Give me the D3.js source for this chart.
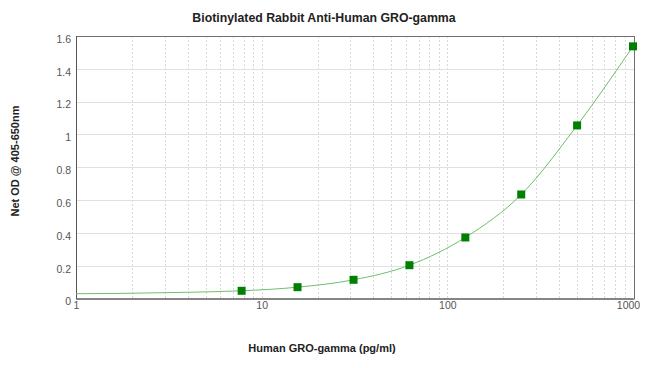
<!DOCTYPE html>
<html><head><meta charset="utf-8">
<script src="https://cdn.jsdelivr.net/npm/d3@7"></script>
<style>body{margin:0;background:#fff}svg{display:block}</style>
</head><body>
<svg id="c" width="650" height="368"></svg>
<script>
const concentrations = [7.8, 15.6, 31.25, 62.5, 125, 250, 500, 1000];
const odValues = [0.047, 0.069, 0.114, 0.203, 0.372, 0.634, 1.055, 1.537];
const curveX = [1, 2, 4, 7.8, 15.6, 31.25, 62.5, 125, 250, 500, 1000];
const curveY = [0.029, 0.032, 0.038, 0.047, 0.069, 0.114, 0.203, 0.372, 0.634, 1.055, 1.537];
const xTicks = [1, 10, 100, 1000];
const yTicks = [0, 0.2, 0.4, 0.6, 0.8, 1, 1.2, 1.4, 1.6];
const title = "Biotinylated Rabbit Anti-Human GRO-gamma";
const xLabel = "Human GRO-gamma (pg/ml)";
const yLabel = "Net OD @ 405-650nm";

const svg = d3.select("#c");
const L = 76, R = 634, T = 36, B = 298.5;
const x = d3.scaleLog().domain([1, 1000]).range([L, 633]);
const y = d3.scaleLinear().domain([0, 1.6]).range([B, T]);

// minor vertical grid
const minor = [];
for (let d = 1; d <= 1000; d *= 10) for (let k = 1; k <= 9; k++) { const v = d * k; if (v > 1 && v < 1000) minor.push(v); }
svg.append("g").selectAll("line").data(minor).join("line")
  .attr("x1", d => Math.round(x(d)) + 0.5).attr("x2", d => Math.round(x(d)) + 0.5).attr("y1", T).attr("y2", B)
  .attr("stroke", "#d8d8d8").attr("stroke-width", 1).attr("stroke-dasharray", "2,2");
// horizontal grid
svg.append("g").selectAll("line").data(yTicks.slice(1)).join("line")
  .attr("x1", L).attr("x2", R).attr("y1", d => Math.round(y(d)) + 0.5).attr("y2", d => Math.round(y(d)) + 0.5)
  .attr("stroke", "#e0e0e0").attr("stroke-width", 1);

// frame
svg.append("rect").attr("x", L + 0.5).attr("y", T + 0.5).attr("width", R - L).attr("height", B - T)
  .attr("fill", "none").attr("stroke", "#707070").attr("stroke-width", 1);

// axes
const yAxis = d3.axisLeft(y).tickValues(yTicks).tickSize(0).tickPadding(5).tickFormat(d3.format("~g"));
const gy = svg.append("g").attr("transform", `translate(${L},0)`).call(yAxis);
gy.select(".domain").attr("stroke", "#555");
gy.selectAll("text").attr("font-family", "Liberation Sans, Arial, sans-serif").attr("font-size", 10.5).attr("fill", "#555").attr("dy", "0.6em");

const xAxis = d3.axisBottom(x).tickValues(xTicks).tickSize(0).tickPadding(3).tickFormat(d3.format("d"));
const gx = svg.append("g").attr("transform", `translate(0,${B})`).call(xAxis);
gx.select(".domain").attr("stroke", "#555");
gx.selectAll("text").attr("font-family", "Liberation Sans, Arial, sans-serif").attr("font-size", 10.5).attr("fill", "#555");
gx.selectAll(".tick").filter(d => d === 1000).select("text").attr("dx", "-5");

// curve
const pts = curveX.map((v, i) => [v, curveY[i]]);
svg.append("path").datum(pts)
  .attr("d", d3.line().x(d => x(d[0])).y(d => y(d[1])).curve(d3.curveMonotoneX))
  .attr("fill", "none").attr("stroke", "#6cbf6c").attr("stroke-width", 1);

// markers
svg.append("g").selectAll("rect").data(concentrations).join("rect")
  .attr("x", d => x(d) - 4).attr("y", (d, i) => y(odValues[i]) - 4)
  .attr("width", 8).attr("height", 8).attr("fill", "#008000");

// texts
svg.append("text").attr("x", 324).attr("y", 22).attr("text-anchor", "middle")
  .attr("font-family", "Liberation Sans, Arial, sans-serif").attr("font-weight", "bold").attr("font-size", 12.3)
  .attr("fill", "#222").text(title);
svg.append("text").attr("x", 322).attr("y", 352).attr("text-anchor", "middle")
  .attr("font-family", "Liberation Sans, Arial, sans-serif").attr("font-weight", "bold").attr("font-size", 11)
  .attr("fill", "#222").text(xLabel);
svg.append("text").attr("transform", "translate(19,161) rotate(-90)").attr("text-anchor", "middle")
  .attr("font-family", "Liberation Sans, Arial, sans-serif").attr("font-weight", "bold").attr("font-size", 11)
  .attr("fill", "#222").text(yLabel);
</script>
</body></html>
